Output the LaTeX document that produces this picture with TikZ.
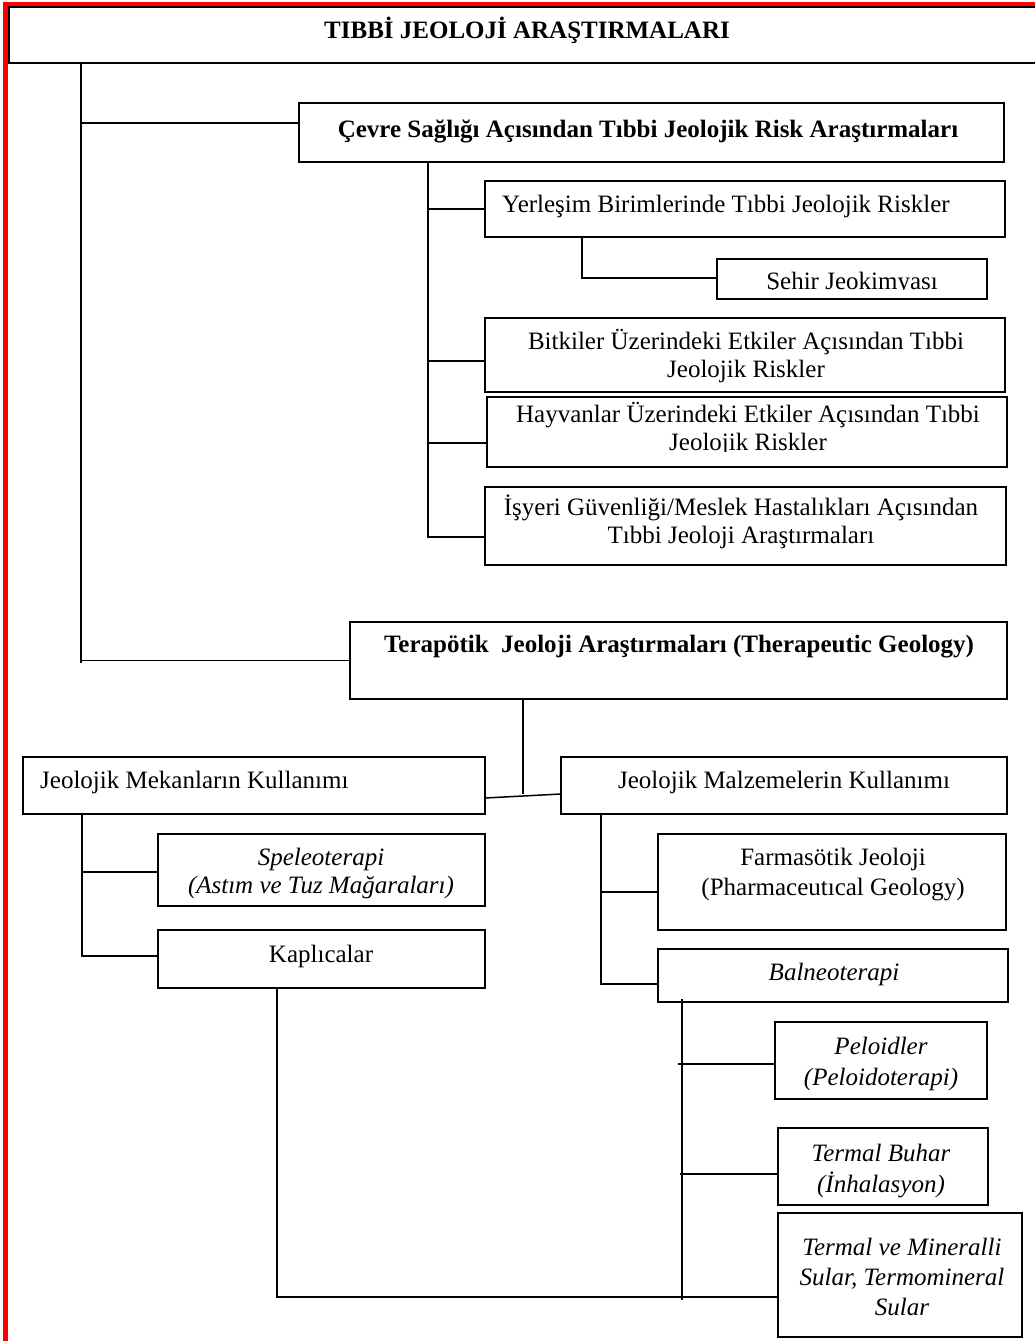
\documentclass[tikz,border=0pt]{standalone}
\usepackage{fontspec}
\setmainfont{Liberation Serif}
\newcommand\bxnode[5]{\node[bx, minimum width={(#4-#2)*1pt}, minimum height={(#5-#3)*1pt}] (#1) at ({(#2+#4)/2},{(#3+#5)/2}) {};}
\tikzset{
  bx/.style={draw, line width=1.9pt, inner sep=0pt, outer sep=0pt},
  lk/.style={line width=1.5pt},
  tx/.style={anchor=base, inner sep=0pt, font=\fontsize{25}{29}\selectfont},
  tb/.style={tx, font=\fontsize{25}{29}\selectfont\bfseries},
  ti/.style={tx, font=\fontsize{25}{29}\selectfont\itshape},
}
\begin{document}
\begin{tikzpicture}[x=1pt,y=-1pt]
\useasboundingbox (0,0) rectangle (1035,1341);
\fill[white] (0,0) rectangle (1035,1341);
% red frame
\draw[red, line width=4.5pt] (5.5,1341) -- (5.5,4) -- (1040,4);
% boxes
\bxnode{title}{9}{7}{1046}{63}
\bxnode{cevre}{299}{103}{1004}{162}
\bxnode{yer}{485}{181}{1005}{237}
\bxnode{sehir}{717}{259}{987}{299}
\bxnode{bitki}{485}{318}{1005}{392}
\bxnode{hayvan}{487}{397}{1007}{467}
\bxnode{isyeri}{485}{487}{1006}{565}
\bxnode{terap}{350}{622}{1007}{699}
\bxnode{mekan}{23}{757}{485}{814}
\bxnode{malz}{561}{757}{1007}{814}
\bxnode{speleo}{158}{834}{485}{906}
\bxnode{kapli}{158}{930}{485}{988}
\bxnode{farma}{658}{834}{1006}{930}
\bxnode{balneo}{658}{949}{1008}{1002}
\bxnode{peloid}{775}{1022}{987}{1099}
\bxnode{buhar}{778}{1128}{988}{1205}
\bxnode{mineral}{778}{1213}{1022}{1337}
% joint coordinates
\coordinate (trk) at (81,0);
\coordinate (jc) at (81,123);
\coordinate (ji) at (428,537);
\coordinate (jy) at (428,209);
\coordinate (jb) at (428,361);
\coordinate (jh) at (428,443);
\coordinate (js) at (582,278);
\coordinate (jt) at (523,794);
\coordinate (lm1) at (0,798);
\coordinate (lm2) at (0,794);
\coordinate (jmk1) at (82,872);
\coordinate (jmk2) at (82,956);
\coordinate (jk) at (277,1297);
\coordinate (jml) at (601,984);
\coordinate (jf) at (600,892);
\coordinate (jbt) at (682,1300);
\coordinate (jbs) at (682,999);
\coordinate (jp) at (678,1064);
\coordinate (jbh) at (680,1174);
% connectors
\draw[lk] (title.south -| trk) -- ++(0,600) (trk |- terap.west) -- (terap.west);
\draw[lk] (jc) -- (jc -| cevre.west);
\draw[lk] (cevre.south -| ji) -- (ji) -- (ji -| isyeri.west);
\draw[lk] (jy) -- (jy -| yer.west);
\draw[lk] (jb) -- (jb -| bitki.west);
\draw[lk] (jh) -- (jh -| hayvan.west);
\draw[lk] (yer.south -| js) -- (js) -- (js -| sehir.west);
\draw[lk] (terap.south -| jt) -- (jt);
\draw[lk] (mekan.east |- lm1) -- (malz.west |- lm2);
\draw[lk] (mekan.south -| jmk2) -- (jmk2) -- (jmk2 -| kapli.west);
\draw[lk] (jmk1) -- (jmk1 -| speleo.west);
\draw[lk] (kapli.south -| jk) -- (jk) -- (jk -| mineral.west);
\draw[lk] (malz.south -| jml) -- (jml) -- (jml -| balneo.west);
\draw[lk] (jf) -- (jf -| farma.west);
\draw[lk] (jbs) -- (jbt);
\draw[lk] (jp) -- (jp -| peloid.west);
\draw[lk] (jbh) -- (jbh -| buhar.west);
% texts
\node[tb] (tTitle) at (527,38) {TIBBİ JEOLOJİ ARAŞTIRMALARI};
\node[tb] (tCevre) at (648,137) {Çevre Sağlığı Açısından Tıbbi Jeolojik Risk Araştırmaları};
\node[tx, anchor=base west] (tYer) at (502,212) {Yerleşim Birimlerinde Tıbbi Jeolojik Riskler};
\begin{scope}
\clip (sehir.north west) rectangle (987,289.6);
\node[tx] (tSehir) at (852,289) {Şehir Jeokimyası};
\end{scope}
\node[tx] (tBit1) at (746,349) {Bitkiler Üzerindeki Etkiler Açısından Tıbbi};
\node[tx] (tBit2) at (746,377) {Jeolojik Riskler};
\node[tx] (tHay1) at (748,422) {Hayvanlar Üzerindeki Etkiler Açısından Tıbbi};
\begin{scope}
\clip (487,430) rectangle (1007,451.5);
\node[tx] (tHay2) at (748,450) {Jeolojik Riskler};
\end{scope}
\node[tx] (tIs1) at (741,515) {İşyeri Güvenliği/Meslek Hastalıkları Açısından};
\node[tx] (tIs2) at (741,543) {Tıbbi Jeoloji Araştırmaları};
\node[tb] (tTer) at (679,652) {Terapötik\ \ Jeoloji Araştırmaları (Therapeutic Geology)};
\node[tx, anchor=base west] (tMek) at (40,788) {Jeolojik Mekanların Kullanımı};
\node[tx] (tMal) at (784,788) {Jeolojik Malzemelerin Kullanımı};
\node[ti] (tSp1) at (321,865) {Speleoterapi};
\node[ti] (tSp2) at (321,893) {(Astım ve Tuz Mağaraları)};
\node[tx] (tKap) at (321,962) {Kaplıcalar};
\node[tx] (tFa1) at (833,865) {Farmasötik Jeoloji};
\node[tx] (tFa2) at (833,895) {(Pharmaceutıcal Geology)};
\node[ti] (tBal) at (834,980) {Balneoterapi};
\node[ti] (tPe1) at (881,1054) {Peloidler};
\node[ti] (tPe2) at (881,1085) {(Peloidoterapi)};
\node[ti] (tBu1) at (881,1161) {Termal Buhar};
\node[ti] (tBu2) at (881,1192) {(İnhalasyon)};
\node[ti] (tMi1) at (902,1255) {Termal ve Mineralli};
\node[ti] (tMi2) at (902,1285) {Sular, Termomineral};
\node[ti] (tMi3) at (902,1315) {Sular};
\end{tikzpicture}
\end{document}
